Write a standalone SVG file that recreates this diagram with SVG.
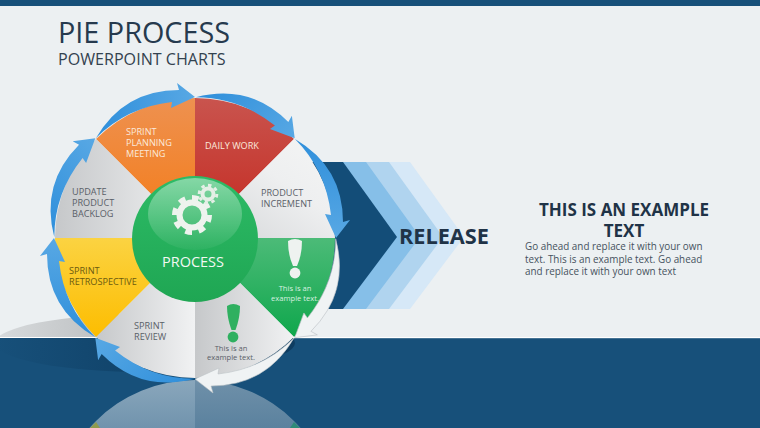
<svg xmlns="http://www.w3.org/2000/svg" xmlns:xlink="http://www.w3.org/1999/xlink" width="760" height="428" viewBox="0 0 760 428">
<style>
text{font-family:"Open Sans","Liberation Sans",sans-serif}
.lab{font-size:9.15px;fill:#5a6068}
.lw{font-size:9.15px;fill:#fbe9dc}
.ex{font-size:7.6px;text-anchor:middle}
.body{font-size:9.9px;fill:#46525e}
.hd{font-size:17px;font-weight:700;fill:#1f3347;text-anchor:middle}
</style>
<defs>
<linearGradient id="gO" x1="0" y1="0" x2="0" y2="1"><stop offset="0" stop-color="#ee9150"/><stop offset="1" stop-color="#f47a14"/></linearGradient>
<linearGradient id="gR" x1="0" y1="0" x2="0" y2="1"><stop offset="0" stop-color="#c9544e"/><stop offset="1" stop-color="#c4281e"/></linearGradient>
<linearGradient id="gG" x1="0" y1="0" x2="0" y2="1"><stop offset="0" stop-color="#4cbb78"/><stop offset="1" stop-color="#0fa74c"/></linearGradient>
<linearGradient id="gY" x1="0" y1="0" x2="0" y2="1"><stop offset="0" stop-color="#fbd342"/><stop offset="1" stop-color="#fdbd00"/></linearGradient>
<linearGradient id="gS" x1="0" y1="0" x2="1" y2="0"><stop offset="0" stop-color="#c6c8ca"/><stop offset="1" stop-color="#f1f2f3"/></linearGradient>
<linearGradient id="gP" x1="0" y1="1" x2="1" y2="0"><stop offset="0" stop-color="#d3d5d7"/><stop offset=".6" stop-color="#eeeff0"/><stop offset="1" stop-color="#f4f5f5"/></linearGradient>
<linearGradient id="gC" x1="0" y1="0" x2="0" y2="1"><stop offset="0" stop-color="#2dbb66"/><stop offset="1" stop-color="#1fa653"/></linearGradient>
<linearGradient id="gH" x1="0" y1="0" x2="0" y2="1"><stop offset="0" stop-color="#fff" stop-opacity=".42"/><stop offset="1" stop-color="#fff" stop-opacity=".04"/></linearGradient>
<linearGradient id="gB" x1="0" y1="0" x2="1" y2="0"><stop offset="0" stop-color="#2f8fdb"/><stop offset="1" stop-color="#58a8e4"/></linearGradient>
<linearGradient id="gSh" x1="0" y1="0" x2="1" y2="0"><stop offset="0" stop-color="#d8dbdd"/><stop offset=".35" stop-color="#bfc2c4"/><stop offset="1" stop-color="#a8abae"/></linearGradient>
<linearGradient id="gSd" x1="0" y1="0" x2="1" y2="0"><stop offset="0" stop-color="#17507a"/><stop offset=".45" stop-color="#11446b"/><stop offset="1" stop-color="#0e3c60"/></linearGradient>
<linearGradient id="gRL" x1="0" y1="0" x2="0" y2="1"><stop offset="0" stop-color="#8aa7bc"/><stop offset="1" stop-color="#3f6d90"/></linearGradient>
<linearGradient id="gRR" x1="0" y1="0" x2="0" y2="1"><stop offset="0" stop-color="#6f90a9"/><stop offset="1" stop-color="#34668a"/></linearGradient>
<clipPath id="cUp"><rect x="0" y="0" width="760" height="337"/></clipPath>
<clipPath id="cDn"><rect x="0" y="338" width="760" height="90"/></clipPath>
<path id="arc" d="M96,138Q124,90 179,90L177,83L195,97L171,108L172,102Q127,107 96,138Z"/>
</defs>

<g id="background">
<rect width="760" height="428" fill="#ecf0f2"/>
<rect width="760" height="6" fill="#17507a"/>
<rect y="338" width="760" height="90" fill="#17507a"/>
<rect y="337" width="760" height="1.2" fill="#fff"/>
<ellipse cx="145" cy="343" rx="150" ry="29" fill="url(#gSh)" clip-path="url(#cUp)"/>
<ellipse cx="145" cy="343" rx="150" ry="29" fill="url(#gSd)" clip-path="url(#cDn)"/>
<path d="M195,380A140,140 0 0 0 55,520V428H195Z" fill="url(#gRL)" clip-path="url(#cDn)"/>
<path d="M195,380A140,140 0 0 1 335,520V428H195Z" fill="url(#gRR)" clip-path="url(#cDn)"/>
<path d="M90,428L96,422L100,428Z" fill="#8f9a4e"/>
<path d="M300,428L294,422L290,428Z" fill="#2f8a78"/>
</g>

<g id="title">
<text x="58" y="43" font-size="28.8" fill="#263a4e">PIE PROCESS</text>
<text x="58" y="65" font-size="16.1" fill="#33424f">POWERPOINT CHARTS</text>
</g>

<g id="release-chevrons">
<path d="M410,162L464,237L410,309H388V162Z" fill="#d6e8f7"/>
<path d="M389,162L443,237L389,309H366V162Z" fill="#b0d4ef"/>
<path d="M366,162L420,237L366,309H343V162Z" fill="#86bfe8"/>
<path d="M343,162L397,237L343,309H300V162Z" fill="#134d78"/>
<text x="399" y="244" font-size="21.7" font-weight="700" fill="#1f3347">RELEASE</text>
</g>

<g id="seg-sprint-planning">
<path d="M195,238L96,139A140,140 0 0 1 195,98Z" fill="url(#gO)"/>
<text class="lw"><tspan x="126" y="135">SPRINT</tspan><tspan x="126" y="146">PLANNING</tspan><tspan x="126" y="157">MEETING</tspan></text>
</g>
<g id="seg-daily-work">
<path d="M195,238V98A140,140 0 0 1 294,139Z" fill="url(#gR)"/>
<text class="lw" x="205" y="149">DAILY WORK</text>
</g>
<g id="seg-product-increment">
<path d="M195,238L294,139A140,140 0 0 1 335,238Z" fill="url(#gP)"/>
<text class="lab"><tspan x="261" y="196">PRODUCT</tspan><tspan x="261" y="207">INCREMENT</tspan></text>
</g>
<g id="seg-example-green">
<path d="M195,238H335A140,140 0 0 1 294,337Z" fill="url(#gG)"/>
<path d="M288,241Q295,237 302,241Q302,255 297,266H293Q288,255 288,241Z" fill="#eef2f0"/>
<circle cx="295" cy="273" r="5.4" fill="#eef2f0"/>
<text class="ex" fill="#d8f0e0"><tspan x="295" y="291">This is an</tspan><tspan x="295" y="300.5">example text.</tspan></text>
</g>
<g id="seg-example-gray">
<path d="M195,238L294,337A140,140 0 0 1 195,378Z" fill="url(#gS)"/>
<path d="M227,306Q233,302 240,306Q240,318 235.5,330H231.500Q227,318 227,306Z" fill="#2fb060"/>
<circle cx="233" cy="337" r="5.4" fill="#2fb060"/>
<text class="ex" fill="#5a6068"><tspan x="231" y="350.5">This is an</tspan><tspan x="231" y="360">example text.</tspan></text>
</g>
<g id="seg-sprint-review">
<path d="M195,238V378A140,140 0 0 1 96,337Z" fill="url(#gS)"/>
<text class="lab"><tspan x="134" y="329">SPRINT</tspan><tspan x="134" y="340">REVIEW</tspan></text>
</g>
<g id="seg-sprint-retrospective">
<path d="M195,238L96,337A140,140 0 0 1 55,238Z" fill="url(#gY)"/>
<text class="lab" style="fill:#6b5a10"><tspan x="69" y="274">SPRINT</tspan><tspan x="69" y="285">RETROSPECTIVE</tspan></text>
</g>
<g id="seg-update-backlog">
<path d="M195,238H55A140,140 0 0 1 96,139Z" fill="url(#gS)"/>
<text class="lab"><tspan x="72" y="195">UPDATE</tspan><tspan x="72" y="206">PRODUCT</tspan><tspan x="72" y="217">BACKLOG</tspan></text>
</g>

<g id="connectors">
<use xlink:href="#arc" href="#arc" fill="url(#gB)"/>
<use xlink:href="#arc" href="#arc" fill="url(#gB)" transform="rotate(45 195 238)"/>
<use xlink:href="#arc" href="#arc" fill="url(#gB)" transform="rotate(90 195 238)"/>
<use xlink:href="#arc" href="#arc" fill="#f0f3f4" stroke="#bcc2c6" stroke-width=".6" transform="rotate(135 195 238)"/>
<use xlink:href="#arc" href="#arc" fill="#f0f3f4" stroke="#bcc2c6" stroke-width=".6" transform="rotate(180 195 238)"/>
<use xlink:href="#arc" href="#arc" fill="url(#gB)" transform="rotate(225 195 238)"/>
<use xlink:href="#arc" href="#arc" fill="url(#gB)" transform="rotate(270 195 238)"/>
<use xlink:href="#arc" href="#arc" fill="url(#gB)" transform="rotate(315 195 238)"/>
</g>

<g id="hub-process">
<circle cx="195" cy="239" r="63" fill="url(#gC)"/>
<ellipse cx="195" cy="214" rx="47" ry="36" fill="url(#gH)"/>
<circle cx="192" cy="215" r="12.5" fill="none" stroke="#eef3ee" stroke-width="6"/>
<circle cx="192" cy="215" r="17.5" fill="none" stroke="#eef3ee" stroke-width="5" pathLength="80" stroke-dasharray="5 5"/>
<circle cx="208" cy="194" r="5.5" fill="none" stroke="#e4efe6" stroke-width="4"/>
<circle cx="208" cy="194" r="8.8" fill="none" stroke="#e4efe6" stroke-width="3" pathLength="64" stroke-dasharray="4 4"/>
<text x="193" y="267" font-size="14.5" fill="#f2f8f3" text-anchor="middle">PROCESS</text>
</g>

<g id="example-text">
<text class="hd" x="624" y="216">THIS IS AN EXAMPLE</text>
<text class="hd" x="624" y="237">TEXT</text>
<text class="body"><tspan x="525" y="250">Go ahead and replace it with your own</tspan><tspan x="525" y="262.5">text. This is an example text. Go ahead</tspan><tspan x="525" y="275">and replace it with your own text</tspan></text>
</g>
</svg>
